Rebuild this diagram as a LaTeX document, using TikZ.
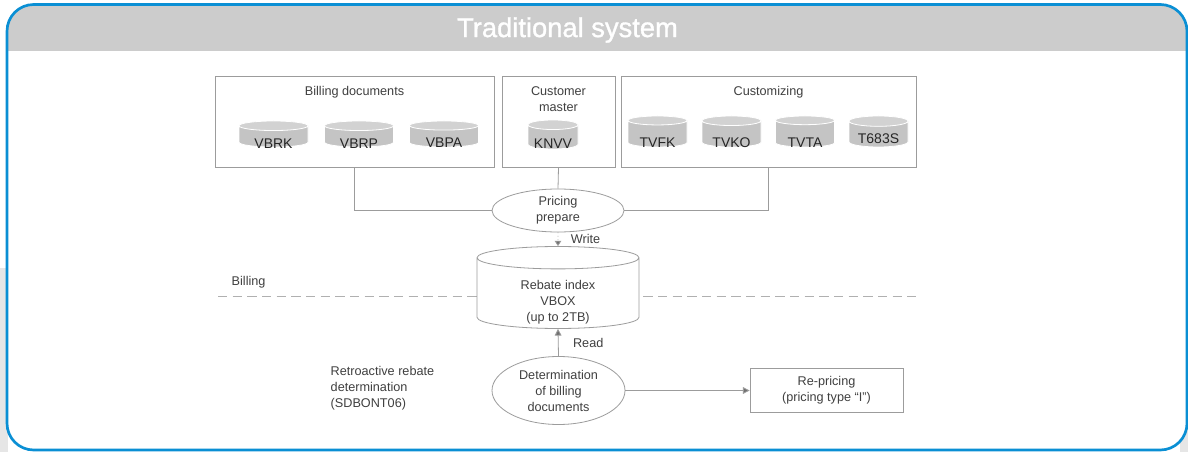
\documentclass[tikz,border=0pt]{standalone}
\usepackage{fontspec}
\setmainfont{Liberation Sans}
\newfontfamily\titlefont{Liberation Sans}[FakeBold=1.2]
\usetikzlibrary{shapes.geometric,arrows.meta}

\definecolor{sapblue}{HTML}{0A8FD4}
\definecolor{headgrey}{HTML}{CCCCCC}
\definecolor{margingrey}{HTML}{E6E6E6}
\definecolor{txtgrey}{HTML}{404040}
\definecolor{txtdark}{HTML}{262626}
\definecolor{linegrey}{HTML}{9C9C9C}
\definecolor{tipgrey}{HTML}{707070}
\definecolor{dbgrey}{HTML}{C4C4C4}
\definecolor{dbtop}{HTML}{D2D2D2}

% table names sit low in the cylinder body, under the lid
\newcommand{\lowered}[2]{\raisebox{#1}[\height][\depth]{#2}}

\begin{document}
\begin{tikzpicture}[
        x=0.75pt, y=-0.75pt,
        every node/.style={align=center, text=txtgrey,
                           font=\fontsize{9.5}{12}\selectfont},
        group/.style={draw=linegrey, line width=0.6pt, minimum height=68.25pt},
        db/.style={cylinder, shape border rotate=90, aspect=0.25,
                   draw=white, line width=0.6pt, inner sep=0pt,
                   anchor=shape center,
                   cylinder uses custom fill, cylinder body fill=dbgrey,
                   cylinder end fill=dbtop, minimum width=51.75pt,
                   minimum height=19.5pt, text=txtdark,
                   font=\fontsize{10.5}{12}\selectfont},
        process/.style={ellipse, draw=linegrey, line width=0.6pt, inner sep=0pt},
        conn/.style={draw=linegrey, line width=0.6pt},
        arr/.style={conn, -{Triangle[length=5pt, width=5pt, fill=tipgrey]}},
    ]
    \useasboundingbox (0,0) rectangle (1188,452);

    % --- Frame with grey title band ---------------------------------------
    \fill[margingrey] (0,268) rectangle (8,452);
    \fill[margingrey] (1180,268) rectangle (1188,452);
    \fill[white, rounded corners=20pt] (7,4.5) rectangle (1187,450);
    \begin{scope}
        \clip[rounded corners=20pt] (7,4.5) rectangle (1187,450);
        \fill[headgrey] (7,4.5) rectangle (1187,51);
    \end{scope}
    \draw[sapblue, line width=2pt, rounded corners=20pt]
        (7,4.5) rectangle (1187,450);
    \node[text=white, font=\titlefont\fontsize{20.5}{24}\selectfont] (title)
        at (567.5,30) {Traditional system};

    % --- Source tables --------------------------------------------------
    \node[group, minimum width=209.25pt] (billing) at (354.5,121.5) {};
    \node[group, minimum width=84.75pt]  (customer) at (558.5,121.5) {};
    \node[group, minimum width=221.25pt] (customizing) at (768.5,121.5) {};

    \node[anchor=north, inner sep=8pt] (billtxt) at (billing.north)
        {Billing documents};
    \node[anchor=north, inner sep=8pt] (custtxt) at (customer.north)
        {Customer\\master};
    \node[anchor=north, inner sep=8pt] (cztxt) at (customizing.north)
        {Customizing};

    \node[db] (vbrk) at (273.5,134) {\lowered{-5pt}{VBRK}};
    \node[db] (vbrp) at (359,134)   {\lowered{-5pt}{VBRP}};
    \node[db] (vbpa) at (444,134)   {\lowered{-5pt}{VBPA}};
    \node[db, minimum width=37.5pt, minimum height=21.75pt] (knvv)
        at (553,134.5) {\lowered{-5pt}{KNVV}};
    \foreach \name/\xpos/\drop in {TVFK/657.5/-6.4pt, TVKO/731.5/-6.4pt,
                                   TVTA/805/-6.4pt, T683S/878.5/-3.4pt}
        \node[db, minimum width=44.25pt, minimum height=23.25pt] (\name)
            at (\xpos,131.5) {\lowered{\drop}{\name}};

    % --- Pricing prepare and rebate index ---------------------------------
    \node[process, minimum width=99pt, minimum height=32.25pt] (pricing)
        at (558,210.5) {Pricing\\prepare};

    \draw[conn] (billing.south) |- (pricing.west);
    \draw[conn] (customer.south) -- (pricing.north);
    \draw[conn] (customizing.south) |- (pricing.east);

    % Billing boundary, drawn before the index so the cylinder covers it
    \coordinate (billL) at (218,296);
    \coordinate (billR) at (916,296);
    \draw[linegrey!80, line width=0.6pt, dash pattern=on 7pt off 4pt]
        (billL) -- (billR);
    \node[anchor=west] (billlbl) at (227,282) {Billing};

    \node[cylinder, shape border rotate=90, aspect=0.3, draw=linegrey,
          line width=0.6pt, fill=white, inner sep=0pt, anchor=shape center,
          minimum width=121.5pt, minimum height=59.25pt] (rebate)
        at (558,287.5)
        {\lowered{-7.1pt}{\begin{tabular}{@{}c@{}}Rebate index\\VBOX\\
         (up to 2TB)\end{tabular}}};

    \draw[conn, dotted, -{Triangle[length=4pt, width=5pt, fill=tipgrey]}]
        (pricing.south) -- node[midway, right=6pt] (writelbl) {Write}
        (rebate.north);

    % --- Retroactive rebate determination ---------------------------------
    \node[anchor=west, align=left] (retro) at (326,388)
        {Retroactive rebate\\determination\\(SDBONT06)};
    \node[process, minimum width=99.75pt, minimum height=51pt] (determ)
        at (558.5,390.5) {Determination\\of billing\\documents};
    \node[draw=linegrey, line width=0.6pt, minimum width=114.75pt,
          minimum height=33pt] (reprice) at (826.5,390.5)
        {Re-pricing\\(pricing type ``I'')};

    \draw[arr] (determ.north) -- node[midway, right=7.5pt] (readlbl) {Read}
        (rebate.south);
    \draw[arr] (determ.east) -- (reprice.west);

\end{tikzpicture}
\end{document}
